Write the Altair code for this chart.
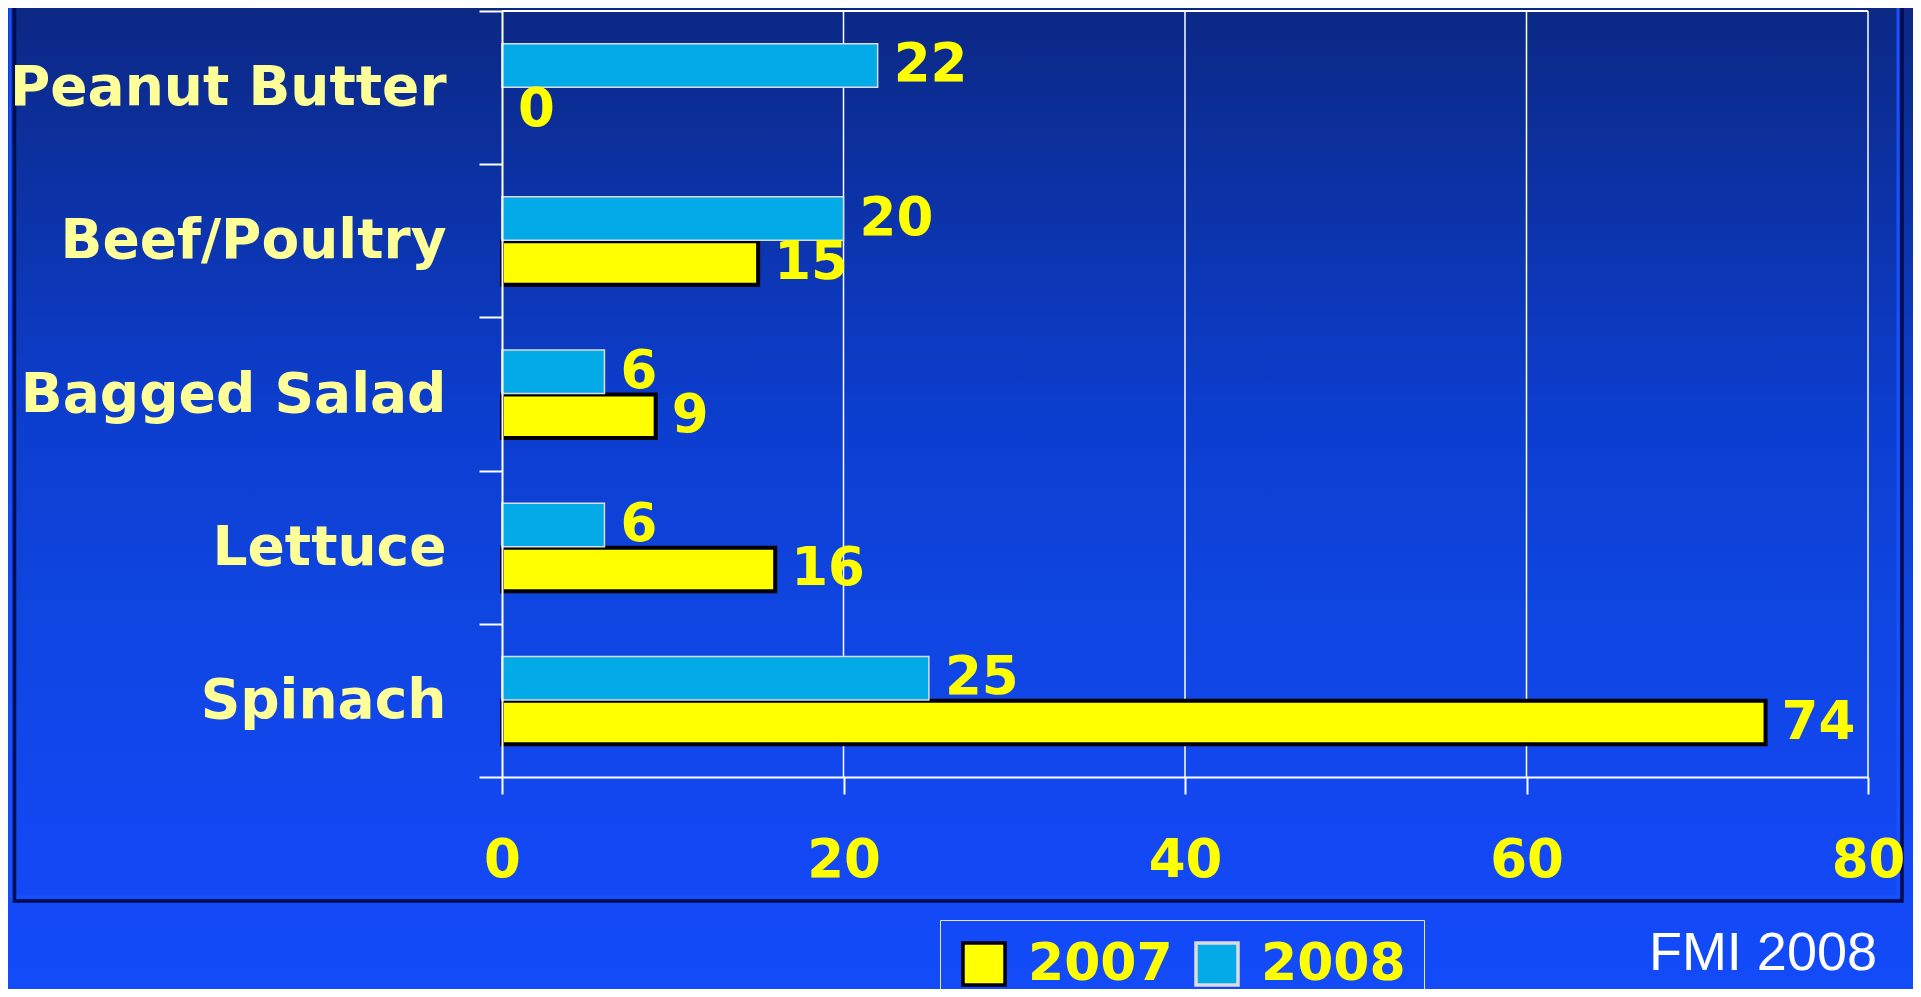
import altair as alt
import pandas as pd

# ---- data ----
categories = ["Peanut Butter", "Beef/Poultry", "Bagged Salad", "Lettuce", "Spinach"]
years = ["2007", "2008"]
values_2007 = [0, 15, 9, 16, 74]
values_2008 = [22, 20, 6, 6, 25]
x_ticks = [0, 20, 40, 60, 80]
grid_ticks = [20, 40, 60, 80]
source_note = ["FMI 2008"]

rows = []
for c, a, b in zip(categories, values_2007, values_2008):
    rows.append({"category": c, "year": "2007", "value": a})
    rows.append({"category": c, "year": "2008", "value": b})
df = pd.DataFrame(rows)
one = pd.DataFrame({"a": [0]})
grid_df = pd.DataFrame({"tick": grid_ticks})
note_df = pd.DataFrame({"note": source_note})

# ---- layout / style ----
W, H = 1366, 766
PAD_L, PAD_T, PAD_R, PAD_B = 494, 3, 45, 212
FONT = "DejaVu Sans"
YELLOW = "#FFFF00"
PALE = "#FFFF99"
CYAN = "#02ABE8"

x_scale = alt.Scale(domain=[0, 80], nice=False, zero=True)
y_scale = alt.Scale(domain=categories, paddingInner=0, paddingOuter=0)
yoff_scale = alt.Scale(domain=["2008", "2007"], paddingInner=0.02, paddingOuter=0.735)

x_axis = alt.Axis(title=None, values=x_ticks, labelFont=FONT, labelFontWeight="bold",
                  labelFontSize=53, labelColor=YELLOW, labelPadding=40, tickSize=17,
                  tickColor="white", tickWidth=2, domainColor="white", domainWidth=2,
                  grid=False, zindex=1, labelFlush=False, labelOverlap=False)
y_axis = alt.Axis(title=None, labelFont=FONT, labelFontWeight="bold", labelFontSize=55,
                  labelColor=PALE, labelPadding=33, tickSize=23, tickColor="white",
                  tickWidth=2, tickBand="extent", domainColor="white", domainWidth=2,
                  grid=False, zindex=1, labelLimit=600)
legend = alt.Legend(title=None, orient="none", legendX=438, legendY=909,
                    direction="horizontal", symbolType="square", symbolSize=1764,
                    symbolStrokeWidth=3.5, labelFont=FONT, labelFontWeight="bold",
                    labelFontSize=52, labelColor=YELLOW, labelOffset=18,
                    columnPadding=16, padding=18, strokeColor="#e6e6e6", labelLimit=300)

gradient = alt.LinearGradient(
    gradient="linear", x1=0, x2=0, y1=0, y2=1,
    stops=[alt.GradientStop(offset=0, color="#0b2884"),
           alt.GradientStop(offset=0.42, color="#0c3ecf"),
           alt.GradientStop(offset=0.61, color="#0f45e0"),
           alt.GradientStop(offset=0.88, color="#1348f5"),
           alt.GradientStop(offset=1, color="#134bf8")])

bg = alt.Chart(one).mark_rect(fill=gradient).encode(
    x=alt.value(-PAD_L), x2=alt.value(W + PAD_R),
    y=alt.value(-PAD_T), y2=alt.value(H + PAD_B))

frame_bright = alt.Chart(one).mark_rect(fillOpacity=0, stroke="#1650ff", strokeWidth=3).encode(
    x=alt.value(-492), x2=alt.value(1396), y=alt.value(-40), y2=alt.value(886))
frame_dark = alt.Chart(one).mark_rect(fillOpacity=0, stroke="#020c4c", strokeWidth=3.5).encode(
    x=alt.value(-487.5), x2=alt.value(1400), y=alt.value(-40), y2=alt.value(890))

grid = alt.Chart(grid_df).mark_rule(color="white", strokeWidth=1.5).encode(
    x=alt.X("tick:Q", scale=x_scale, axis=x_axis))
top_line = alt.Chart(one).mark_rule(color="white", strokeWidth=2).encode(y=alt.value(0))

bars = alt.Chart(df).transform_filter("datum.value > 0").mark_bar().encode(
    x=alt.X("value:Q", scale=x_scale, axis=x_axis),
    y=alt.Y("category:N", scale=y_scale, axis=y_axis),
    yOffset=alt.YOffset("year:N", scale=yoff_scale),
    fill=alt.Fill("year:N", scale=alt.Scale(domain=years, range=[YELLOW, CYAN]), legend=legend),
    stroke=alt.Stroke("year:N", scale=alt.Scale(domain=years, range=["black", "#dcdcdc"]), legend=legend),
    strokeWidth=alt.condition("datum.year == '2007'", alt.value(4), alt.value(1.5)),
)

labels = alt.Chart(df).mark_text(align="left", baseline="middle", dx=16, font=FONT,
                                 fontWeight="bold", fontSize=53, color=YELLOW).encode(
    x=alt.X("value:Q", scale=x_scale, axis=x_axis),
    y=alt.Y("category:N", scale=y_scale, axis=y_axis),
    yOffset=alt.YOffset("year:N", scale=yoff_scale),
    text=alt.Text("value:Q"),
)

note = alt.Chart(note_df).mark_text(align="right", baseline="middle", font="Liberation Sans",
                                    fontSize=54, color="white").encode(
    x=alt.value(1375), y=alt.value(943), text="note:N")

chart = alt.layer(bg, frame_bright, frame_dark, grid, top_line, bars, labels, note).properties(
    width=W, height=H,
    autosize=alt.AutoSizeParams(type="none"),
    padding={"left": PAD_L, "top": PAD_T, "right": PAD_R, "bottom": PAD_B},
).configure(background="#134bf8").configure_view(stroke=None)

chart.save("out.html", embed_options={"renderer": "svg", "actions": False})
